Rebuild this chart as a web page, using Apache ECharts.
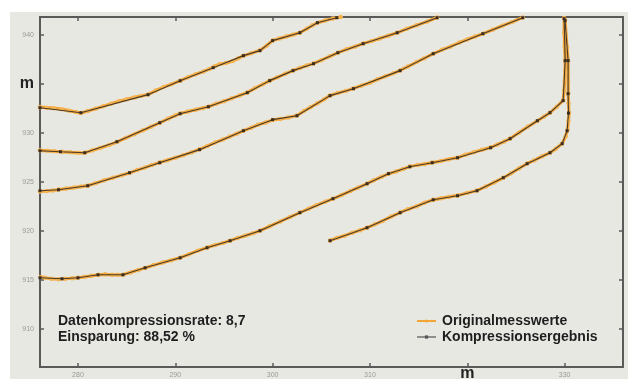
<!DOCTYPE html>
<html><head><meta charset="utf-8">
<script src="https://cdn.jsdelivr.net/npm/echarts@6/dist/echarts.min.js"></script>
<style>html,body{margin:0;padding:0;background:#fff}#c{width:635px;height:379px}</style>
</head><body><div id="c"></div>
<script>
// tick values and labels
const xTicks = [280, 290, 300, 310, 320, 330];
const yTicks = [910, 915, 920, 925, 930, 935, 940];
const unitLabel = 'm';
const legendNames = ['Originalmesswerte', 'Kompressionsergebnis'];
const infoLines = ['Datenkompressionsrate: 8,7', 'Einsparung: 88,52 %'];

// original measured values (x, y) per contour
const origA = [[276.1,932.6],[276.8,932.55],[277.5,932.5],[278.3,932.4],[279.1,932.25],[279.8,932.1],[280.3,932.0],[281.0,932.2],[281.8,932.45],[282.6,932.7],[283.4,932.95],[284.2,933.2],[285.0,933.4],[285.8,933.6],[286.5,933.75],[287.2,933.9],[288.0,934.3],[288.8,934.65],[289.6,934.95],[290.5,935.3],[291.3,935.65],[292.1,935.95],[292.9,936.25],[293.5,936.5],[294.1,936.8],[294.6,937.0],[295.2,937.1],[295.9,937.3],[296.5,937.6],[297.0,937.85],[297.8,938.1],[298.7,938.4],[299.4,938.9],[300.0,939.4],[300.7,939.6],[301.4,939.8],[302.1,940.0],[302.8,940.2],[303.5,940.6],[304.1,940.95],[304.6,941.2],[305.4,941.45],[306.2,941.65],[307.0,941.8]];
const origB = [[276.1,928.2],[276.9,928.15],[277.6,928.1],[278.4,928.05],[279.2,928.0],[280.0,927.95],[280.7,927.95],[281.5,928.2],[282.3,928.45],[283.2,928.75],[284.0,929.05],[284.9,929.45],[285.8,929.85],[286.7,930.25],[287.5,930.6],[288.4,931.0],[289.3,931.45],[290.0,931.75],[290.5,931.95],[291.3,932.15],[292.1,932.35],[292.8,932.5],[293.4,932.65],[294.2,932.95],[295.0,933.2],[295.8,933.5],[296.6,933.8],[297.4,934.1],[298.2,934.55],[299.0,934.95],[299.7,935.3],[300.5,935.65],[301.3,936.0],[302.1,936.35],[302.8,936.6],[303.5,936.85],[304.2,937.05],[305.0,937.4],[305.9,937.8],[306.7,938.15],[307.6,938.5],[308.5,938.8],[309.3,939.1],[310.2,939.35],[311.0,939.6],[311.9,939.9],[312.8,940.2],[313.8,940.6],[314.8,940.95],[315.9,941.35],[316.9,941.75]];
const origC = [[276.1,924.0],[276.8,924.05],[277.4,924.1],[278.0,924.2],[278.8,924.3],[279.6,924.4],[280.3,924.5],[281.0,924.6],[281.8,924.85],[282.7,925.15],[283.6,925.4],[284.5,925.65],[285.3,925.9],[286.1,926.2],[286.9,926.45],[287.6,926.7],[288.4,926.95],[289.2,927.2],[290.0,927.45],[290.8,927.7],[291.7,928.0],[292.5,928.3],[293.3,928.65],[294.1,929.0],[294.9,929.3],[295.6,929.6],[296.3,929.9],[297.0,930.2],[297.8,930.5],[298.5,930.8],[299.3,931.05],[300.0,931.3],[300.8,931.4],[301.6,931.55],[302.5,931.75],[303.2,932.2],[303.9,932.6],[304.6,933.0],[305.3,933.4],[305.9,933.8],[306.7,934.05],[307.5,934.25],[308.3,934.5],[309.1,934.8],[310.0,935.1],[310.8,935.45],[311.6,935.75],[312.4,936.05],[313.1,936.35],[313.9,936.75],[314.8,937.2],[315.6,937.6],[316.5,938.05],[317.4,938.45],[318.3,938.8],[319.2,939.2],[320.0,939.5],[320.8,939.8],[321.6,940.1],[322.6,940.5],[323.6,940.9],[324.6,941.3],[325.7,941.75]];
const origD = [[276.0,915.35],[276.6,915.2],[277.3,915.1],[278.0,915.05],[278.7,915.1],[279.4,915.15],[280.0,915.2],[280.7,915.3],[281.4,915.4],[282.1,915.5],[282.8,915.55],[283.5,915.5],[284.1,915.5],[284.6,915.5],[285.4,915.75],[286.2,916.0],[286.9,916.2],[287.8,916.5],[288.7,916.75],[289.6,917.0],[290.5,917.25],[291.4,917.6],[292.3,917.95],[293.3,918.3],[294.1,918.55],[294.9,918.75],[295.6,918.98],[296.4,919.25],[297.2,919.5],[298.0,919.75],[298.7,920.0],[299.7,920.45],[300.8,920.95],[301.8,921.4],[302.8,921.85],[303.7,922.25],[304.5,922.6],[305.4,922.95],[306.2,923.25],[307.1,923.65],[308.0,924.05],[308.8,924.4],[309.7,924.8],[310.4,925.15],[311.2,925.5],[311.9,925.8],[312.7,926.05],[313.4,926.3],[314.1,926.55],[314.9,926.7],[315.6,926.8],[316.4,926.95],[317.3,927.1],[318.1,927.3],[319.0,927.45],[319.8,927.75],[320.7,928.0],[321.5,928.25],[322.4,928.5],[323.1,928.8],[323.8,929.1],[324.4,929.4],[325.3,930.0],[326.2,930.6],[327.2,931.2],[327.9,931.65],[328.5,932.05],[329.2,932.65],[329.85,933.3],[329.95,934.3],[330.0,935.3],[330.05,936.3],[330.06,937.35],[330.0,938.8],[329.95,940.2],[329.95,941.7]];
const origE = [[305.9,919.0],[306.6,919.25],[307.4,919.5],[308.2,919.8],[309.0,920.05],[309.7,920.3],[310.5,920.65],[311.3,921.0],[312.2,921.45],[313.1,921.85],[313.9,922.2],[314.8,922.5],[315.6,922.85],[316.5,923.15],[317.3,923.3],[318.1,923.45],[319.0,923.6],[320.0,923.85],[321.0,924.1],[321.9,924.5],[322.8,924.95],[323.7,925.4],[324.5,925.85],[325.3,926.35],[326.15,926.85],[326.9,927.2],[327.7,927.6],[328.5,927.95],[329.1,928.35],[329.75,928.9],[330.1,929.6],[330.3,930.3],[330.4,931.2],[330.45,932.0],[330.4,933.0],[330.38,934.0],[330.37,935.1],[330.36,936.2],[330.36,937.35],[330.25,938.7],[330.15,940.0],[330.05,941.5]];

// compressed result (kept vertices) per contour
const compA = [[276.1,932.55],[280.3,932.04],[287.2,933.88],[290.5,935.3],[293.9,936.63],[297.0,937.86],[298.7,938.37],[300.0,939.39],[302.8,940.2],[304.6,941.22],[306.6,941.73]];
const compB = [[276.1,928.16],[278.2,928.06],[280.7,927.96],[284.0,929.08],[288.4,931.02],[290.5,931.94],[293.4,932.65],[297.4,934.08],[299.7,935.31],[302.1,936.33],[304.2,937.04],[306.7,938.16],[309.3,939.08],[312.8,940.2],[316.9,941.73]];
const compC = [[276.1,924.08],[278.0,924.18],[281.0,924.59],[285.3,925.92],[288.4,926.94],[292.5,928.27],[297.0,930.2],[300.0,931.33],[302.5,931.73],[305.9,933.78],[308.3,934.49],[313.1,936.33],[316.5,938.06],[321.6,940.1],[325.7,941.73]];
const compD = [[276.1,915.2],[278.36,915.1],[280.0,915.2],[282.06,915.51],[284.63,915.51],[286.9,916.22],[290.5,917.24],[293.26,918.27],[295.63,918.98],[298.7,920.0],[302.8,921.84],[306.2,923.27],[309.7,924.8],[311.9,925.82],[314.1,926.53],[316.4,926.94],[319.0,927.45],[322.4,928.47],[324.4,929.39],[327.2,931.22],[328.5,932.04],[329.85,933.27],[330.06,937.35],[329.95,941.63]];
const compE = [[305.9,918.98],[309.7,920.31],[313.1,921.84],[316.5,923.16],[319.0,923.57],[321.0,924.08],[323.7,925.41],[326.15,926.84],[328.5,927.96],[329.75,928.88],[330.26,930.2],[330.4,932.0],[330.36,933.98],[330.36,937.35],[330.05,941.43]];

const origList = [origA, origB, origC, origD, origE];
const compList = [compA, compB, compC, compD, compE];

const FONT = '"Liberation Sans", Arial, sans-serif';
const ORANGE = '#f3a638';
const DARK = '#4a3a28';
const AX = '#5a5a58';

const chart = echarts.init(document.getElementById('c'), null, {renderer: 'canvas'});

function xAxisDef(pos, showLabel) {
  return {
    type: 'value', position: pos, min: 276.1, max: 336,
    axisLine: {show: true, onZero: false, lineStyle: {color: AX, width: 2}},
    axisTick: {show: true, inside: true, length: 4, customValues: xTicks, lineStyle: {color: AX, width: 1.5}},
    axisLabel: {show: showLabel, customValues: xTicks, margin: 1, fontSize: 7, color: '#9a9a96', fontFamily: FONT,
      formatter: v => v === 320 ? '{m|' + unitLabel + '}' : '{n|' + v + '}',
      rich: {
        n: {fontSize: 7, color: '#9a9a96', fontFamily: FONT, padding: [4, 0, 0, 0]},
        m: {fontSize: 16, lineHeight: 12, fontWeight: 'bold', color: '#222', fontFamily: FONT}
      }},
    splitLine: {show: false}
  };
}
function yAxisDef(pos, showLabel) {
  return {
    type: 'value', position: pos, min: 906.1, max: 941.8,
    axisLine: {show: true, onZero: false, lineStyle: {color: AX, width: 2}},
    axisTick: {show: true, inside: true, length: 4, customValues: yTicks, lineStyle: {color: AX, width: 1.5}},
    axisLabel: {show: showLabel, customValues: yTicks, margin: 6, fontSize: 7, color: '#9a9a96', fontFamily: FONT,
      formatter: v => v === 935 ? '{m|' + unitLabel + '}' : String(v),
      rich: {m: {fontSize: 16, fontWeight: 'bold', color: '#222', fontFamily: FONT}}},
    splitLine: {show: false}
  };
}

const series = [];
origList.forEach(d => series.push({
  name: legendNames[0], type: 'line', data: d, xAxisIndex: 0, yAxisIndex: 0,
  showSymbol: true, showAllSymbol: true, symbol: 'circle', symbolSize: 4.5,
  lineStyle: {color: ORANGE, width: 3.2}, itemStyle: {color: '#f6b552'}, z: 2, clip: true
}));
compList.forEach(d => series.push({
  name: legendNames[1], type: 'line', data: d, xAxisIndex: 0, yAxisIndex: 0,
  showSymbol: true, showAllSymbol: true, symbol: 'rect', symbolSize: 3,
  lineStyle: {color: DARK, width: 1.1}, itemStyle: {color: '#3a2e22'}, z: 3, clip: true
}));

chart.setOption({
  animation: false,
  backgroundColor: '#ffffff',
  graphic: [
    {type: 'rect', z: -100, silent: true, shape: {x: 10, y: 12, width: 618, height: 367}, style: {fill: '#e8e8e3'}},
    {type: 'text', z: 100, left: 58, top: 313, style: {text: infoLines.join('\n'), font: 'bold 14px ' + FONT, fill: '#1e1e1e', lineHeight: 16}}
  ],
  grid: {left: 40, right: 12, top: 17, bottom: 12, containLabel: false, outerBoundsMode: 'none'},
  xAxis: [xAxisDef('bottom', true), xAxisDef('top', false)],
  yAxis: [yAxisDef('left', true), yAxisDef('right', false)],
  legend: {
    data: [
      {name: legendNames[0], itemStyle: {color: ORANGE}, lineStyle: {color: ORANGE, width: 2}},
      {name: legendNames[1], itemStyle: {color: '#555'}, lineStyle: {color: '#707070', width: 1.5}}
    ],
    orient: 'vertical', left: 411, top: 309, itemGap: 2, itemWidth: 19, itemHeight: 4,
    textStyle: {fontFamily: FONT, fontSize: 14, fontWeight: 'bold', color: '#1e1e1e', padding: [0,0,0,1]},
    selectedMode: false
  },
  series: series
});
</script>
</body></html>
